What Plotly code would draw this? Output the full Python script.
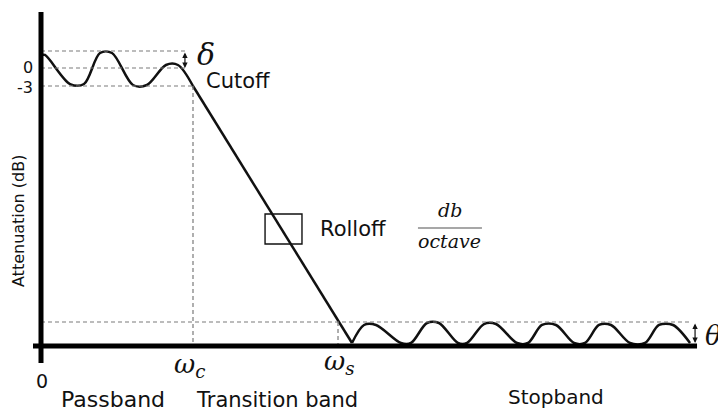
import plotly.graph_objects as go

# ---- data (normalised frequency: cutoff = 1 ; attenuation in dB) ----
pass_freq = [0.0, 0.026, 0.191, 0.283, 0.388, 0.467, 0.605, 0.697, 0.822, 0.901, 1.0]
pass_db = [2.17, 2.17, -2.67, -2.67, 2.5, 2.5, -2.83, -2.83, 0.5, 0.5, -3.0]

roll_freq = [1.0, 2.046]
roll_db = [-3.0, -45.83]

stop_freq = [2.046, 2.125, 2.204, 2.368, 2.434, 2.539, 2.618, 2.743, 2.803, 2.914, 2.993,
             3.132, 3.204, 3.296, 3.388, 3.507, 3.579, 3.671, 3.750, 3.875, 3.974, 4.066,
             4.158, 4.270]
stop_db = [-45.83, -42.83, -42.83, -45.83, -45.83, -42.5, -42.5, -45.83, -45.83, -42.67, -42.67,
           -45.83, -45.83, -42.83, -42.83, -45.83, -45.83, -42.83, -42.83, -45.83, -45.83, -42.83,
           -42.83, -45.83]

cutoff_freq = 1.0
stop_edge_freq = 1.954
ripple_top_db = 2.83
stop_ripple_db = -42.33
axis_floor_db = -46.33
tick_vals = [0, -3]
tick_text = ["0", "-3"]

SANS = "DejaVu Sans"
SERIF = "DejaVu Serif"
INK = "#111111"
DASH_COL = "#7a7a7a"

# page body has an 8px margin: offset the scales so marks land where they should on screen
OFF = 8
PX_PER_F = 152.0
PX_PER_DB = 6.0
X0_PX, Y0_PX = 41, 68

fig = go.Figure()
fig.add_trace(go.Scatter(x=pass_freq, y=pass_db, mode="lines",
                         line=dict(color=INK, width=2.5, shape="spline", smoothing=0.9),
                         hoverinfo="skip"))
fig.add_trace(go.Scatter(x=roll_freq, y=roll_db, mode="lines",
                         line=dict(color=INK, width=2.5), hoverinfo="skip"))
fig.add_trace(go.Scatter(x=stop_freq, y=stop_db, mode="lines",
                         line=dict(color=INK, width=2.5, shape="spline", smoothing=0.9),
                         hoverinfo="skip"))

shapes = []
dash = dict(color=DASH_COL, width=1.2, dash="4px,3px")
shapes.append(dict(type="line", x0=0, x1=0.947, y0=ripple_top_db, y1=ripple_top_db, line=dash))
shapes.append(dict(type="line", x0=0, x1=0.947, y0=tick_vals[0], y1=tick_vals[0], line=dash))
shapes.append(dict(type="line", x0=0, x1=cutoff_freq, y0=tick_vals[1], y1=tick_vals[1], line=dash))
shapes.append(dict(type="line", x0=cutoff_freq, x1=cutoff_freq, y0=-3, y1=axis_floor_db, line=dash))
shapes.append(dict(type="line", x0=0, x1=4.283, y0=stop_ripple_db, y1=stop_ripple_db, line=dash))
shapes.append(dict(type="line", x0=stop_edge_freq, x1=stop_edge_freq, y0=stop_ripple_db,
                   y1=axis_floor_db, line=dash))
shapes.append(dict(type="line", x0=0, x1=0, y0=9.33, y1=-49.17, line=dict(color="black", width=5)))
shapes.append(dict(type="line", x0=-0.0526, x1=4.316, y0=axis_floor_db, y1=axis_floor_db,
                   line=dict(color="black", width=5)))
shapes.append(dict(type="rect", x0=1.474, x1=1.717, y0=-24.33, y1=-29.33,
                   line=dict(color=INK, width=1.4)))
shapes.append(dict(type="line", x0=2.48, x1=2.901, y0=-26.67, y1=-26.67,
                   line=dict(color="#8a8a8a", width=1.5)))

ann = []
def txt(x, y, s, size, fam=SANS, xa="center", ya="middle", angle=0, color=INK):
    ann.append(dict(x=x, y=y, xref="x", yref="y", text=s, showarrow=False, xanchor=xa,
                    yanchor=ya, textangle=angle, font=dict(family=fam, size=size, color=color)))

txt(-0.04, 0.15, tick_text[0], 16, xa="right")
txt(-0.04, -3.3, tick_text[1], 16, xa="right")
txt(1.072, -2.17, "Cutoff", 21, xa="left")
txt(1.822, -26.83, "Rolloff", 21, xa="left")
txt(2.69, -23.67, "<i>db</i>", 19, fam=SERIF)
txt(2.69, -28.9, "<i>octave</i>", 19, fam=SERIF)
txt(1.086, 2.33, "<i>δ</i>", 30, fam=SERIF)
txt(4.355, -44.5, "<i>θ</i>", 27, fam=SERIF, xa="left")
txt(0.974, -49.6, "<i>ω<sub>c</sub></i>", 26, fam=SERIF)
txt(1.967, -49.1, "<i>ω<sub>s</sub></i>", 26, fam=SERIF)
txt(0.0066, -52.17, "0", 19)
txt(0.474, -55.33, "Passband", 22)
txt(1.553, -55.33, "Transition band", 21)
txt(3.388, -54.83, "Stopband", 20)
txt(-0.151, -25.5, "Attenuation (dB)", 16, angle=-90)

for xa_, y0, y1 in [(0.947, 2.83, 0.0), (4.303, -42.33, -45.83)]:
    ann.append(dict(x=xa_, y=y1, ax=xa_, ay=y0, xref="x", yref="y", axref="x", ayref="y",
                    text="", showarrow=True, arrowhead=2, startarrowhead=2, arrowside="end+start",
                    arrowsize=0.9, arrowwidth=1.2, arrowcolor=INK, standoff=0, startstandoff=0))

W, H = 726, 413
fig.update_layout(
    width=W, height=H,
    margin=dict(l=0, r=0, t=0, b=0),
    paper_bgcolor="white", plot_bgcolor="white",
    showlegend=False,
    xaxis=dict(range=[(OFF - X0_PX) / PX_PER_F, (W + OFF - X0_PX) / PX_PER_F],
               visible=False, fixedrange=True),
    yaxis=dict(range=[(Y0_PX - H - OFF) / PX_PER_DB, (Y0_PX - OFF) / PX_PER_DB],
               visible=False, fixedrange=True),
    shapes=shapes, annotations=ann,
)
fig.write_html("out.html")
